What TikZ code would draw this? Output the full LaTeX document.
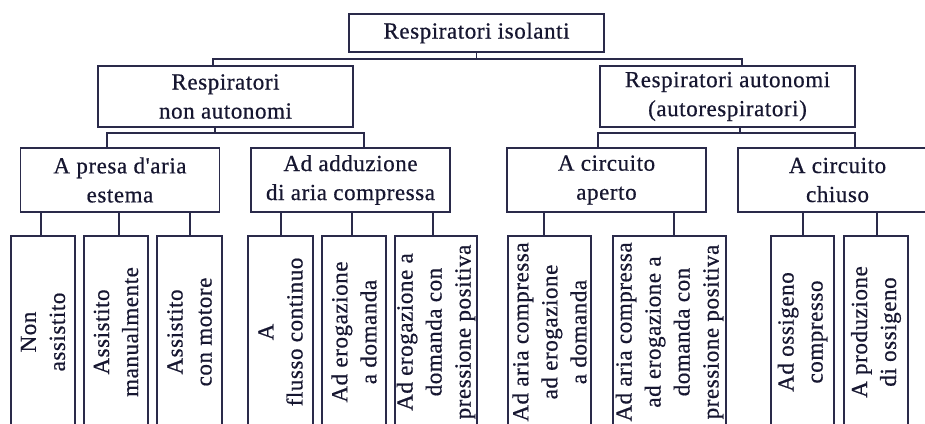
\documentclass[tikz,border=0pt]{standalone}
\usepackage{fontspec}
\setmainfont{Liberation Serif}[LetterSpace=2.5, FakeBold=0.6, Ligatures=TeXOff]
\usepackage{xcolor}
\usepackage{tikz}
\definecolor{rsnavy}{HTML}{2A2A4A}
\definecolor{rsink}{HTML}{161630}

\begin{document}
\begin{tikzpicture}[x=1pt, y=-1pt,
    box/.style={rectangle, draw=rsnavy, line width=1.6pt, fill=white, align=center, inner sep=0pt, text=rsink, font=\fontsize{23}{29}\selectfont},
    midbox/.style={box, minimum width=199pt, minimum height=64pt},
    leaf/.style={box, rotate=90, minimum width=192pt},
    link/.style={draw=rsnavy, line width=1.6pt}
]
\useasboundingbox (0,0) rectangle (925,423);
\clip (0,0) rectangle (925,423);

% top levels
\node[box, minimum width=255pt, minimum height=38pt] (isol) at (476.5,33) {Respiratori isolanti};
\node[box, minimum width=255pt, minimum height=61pt] (nonaut) at (225.5,96.5) {Respiratori\\non autonomi};
\node[box, minimum width=255pt, minimum height=61pt] (autor) at (727.5,96.5) {Respiratori autonomi\\(autorespiratori)};

\node[midbox] (presa) at (120,180) {A presa d'aria\\estema};
\node[midbox] (adduz) at (350.5,180) {Ad adduzione\\di aria compressa};
\node[midbox] (aperto) at (606.5,180) {A circuito\\aperto};
\node[midbox] (chiuso) at (837.5,180) {A circuito\\chiuso};

% leaves
\node[leaf, minimum height=64pt] (nonass) at (43,332) {Non\\assistito};
\node[leaf, minimum height=64pt] (manual) at (116,332) {Assistito\\manualmente};
\node[leaf, minimum height=65pt] (motore) at (189.5,332) {Assistito\\con motore};
\node[leaf, minimum height=65pt] (flusso) at (280.5,332) {A\\flusso continuo};
\node[leaf, minimum height=64pt] (erodom) at (354,332) {Ad erogazione\\a domanda};
\node[leaf, minimum height=82pt] (eropos) at (436,332) {Ad erogazione a\\domanda con\\pressione positiva};
\node[leaf, minimum height=83pt] (apdom) at (549.5,332) {Ad aria compressa\\ad erogazione\\a domanda};
\node[leaf, minimum height=113pt] (appos) at (669.5,332) {Ad aria compressa\\ad erogazione a\\domanda con\\pressione positiva};
\node[leaf, minimum height=63pt] (ossig) at (802.5,332) {Ad ossigeno\\compresso};
\node[leaf, minimum height=64pt] (produz) at (876,332) {A produzione\\di ossigeno};

% connectors
\draw[link] (isol.south) -- ++(0,6) -| ([xshift=-12.5pt]nonaut.north);
\draw[link] (isol.south) -- ++(0,6) -| ([xshift=14.5pt]autor.north);
\draw[link] ([xshift=-10.5pt]nonaut.south) -- ++(0,5) -| ([xshift=-13pt]presa.north);
\draw[link] ([xshift=-10.5pt]nonaut.south) -- ++(0,5) -| ([xshift=13.5pt]adduz.north);
\draw[link] ([xshift=12.5pt]autor.south) -- ++(0,5) -| ([xshift=-8.5pt]aperto.north);
\draw[link] ([xshift=12.5pt]autor.south) -- ++(0,5) -| ([xshift=17.5pt]chiuso.north);

\foreach \lf/\up/\dx in {nonass/presa/-2, manual/presa/3, motore/presa/0.5,
    flusso/adduz/0.5, erodom/adduz/-2, eropos/adduz/-3,
    apdom/aperto/-5.5, appos/aperto/4.5, ossig/chiuso/0.5, produz/chiuso/1}
  \draw[link] ([xshift=\dx pt]\lf.east) -- ([xshift=\dx pt]\lf.east |- \up.south);
\end{tikzpicture}
\end{document}
